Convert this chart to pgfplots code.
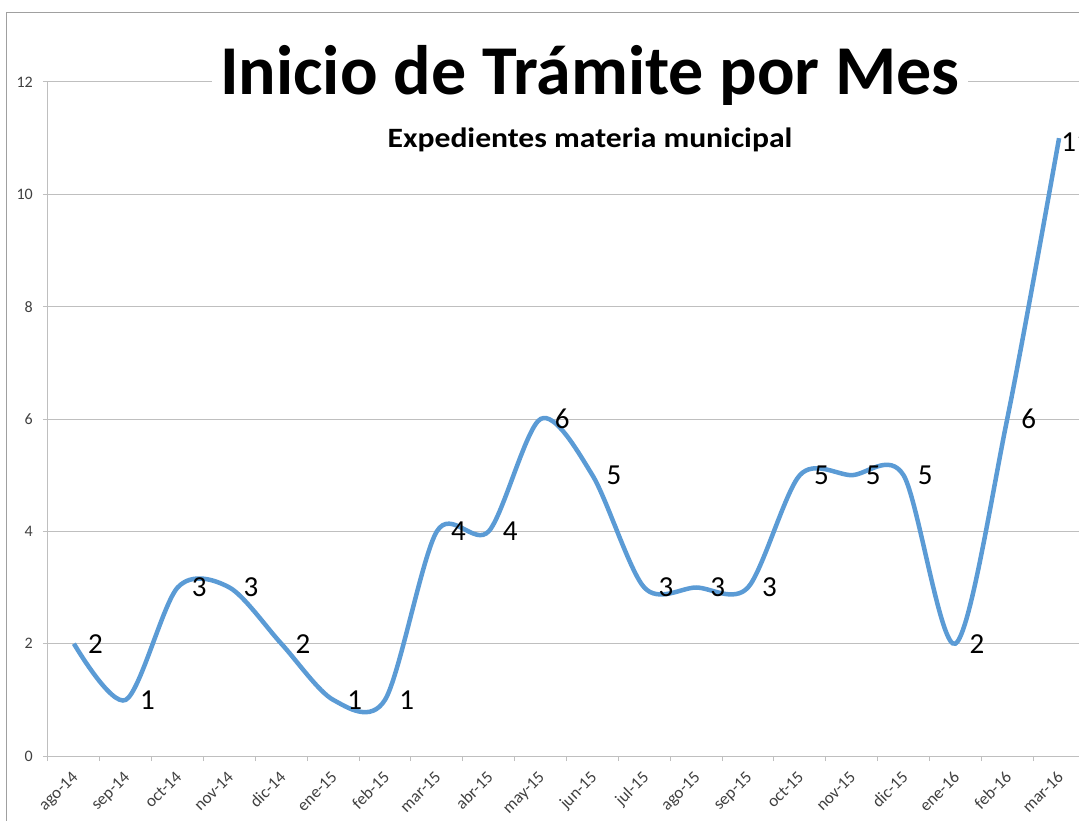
\documentclass[border=0pt]{standalone}
\usepackage{fontspec}
\setmainfont{Carlito}
\usepackage{pgfplots}
\pgfplotsset{compat=1.18}
\definecolor{lineblue}{HTML}{5B9BD5}
\definecolor{gridgray}{HTML}{BFBFBF}
\definecolor{ticktext}{HTML}{404040}
\definecolor{framegray}{HTML}{A0A0A0}
\begin{document}
\begin{tikzpicture}[x=1pt,y=1pt]
\draw[framegray, line width=1pt] (-41,743) rectangle (1200,-120);
\begin{axis}[
  at={(0,0)}, anchor=south west,
  scale only axis, width=1037pt, height=674pt,
  xmin=-0.5, xmax=19.5, ymin=0, ymax=12,
  axis lines=left, axis line style={-, gridgray, line width=1pt},
  /pgf/number format/assume math mode=true,
  xtick={-0.5,0.5,...,19.5},
  x tick label as interval,
  xticklabels={ago-14,sep-14,oct-14,nov-14,dic-14,ene-15,feb-15,mar-15,abr-15,may-15,jun-15,jul-15,ago-15,sep-15,oct-15,nov-15,dic-15,ene-16,feb-16,mar-16},
  ytick={0,2,...,12},
  tick align=outside, major tick length=5pt,
  tick style={gridgray, line width=1pt},
  ymajorgrids, grid style={gridgray, line width=1pt},
  xticklabel shift=9pt,
  yticklabel shift=10pt,
  xticklabel style={xshift=-3pt, rotate=45, anchor=north east, inner sep=0pt, font=\fontsize{17}{17}\selectfont, text=ticktext},
  yticklabel style={anchor=east, inner sep=0pt, font=\fontsize{16}{16}\selectfont, text=ticktext},
  clip=false,
]
\addplot[lineblue, line width=4.5pt, smooth,
  nodes near coords,
  every node near coord/.append style={anchor=west, inner sep=0pt, xshift=12pt, font=\fontsize{29}{29}\selectfont, text=black},
  coordinate style/.condition={x>18.5}{xshift=-12pt, yshift=-4pt}]
coordinates {
(0,2) (1,1) (2,3) (3,3) (4,2) (5,1) (6,1) (7,4) (8,4) (9,6)
(10,5) (11,3) (12,3) (13,3) (14,5) (15,5) (16,5) (17,2) (18,6) (19,11)
};
\end{axis}
\node[fill=white, inner xsep=8pt, inner ysep=4pt, anchor=base, font=\bfseries\fontsize{70}{76}\selectfont] at (542,661) {Inicio de Trámite por Mes};
\node[anchor=base, xscale=1.13, font=\bfseries\fontsize{28}{30}\selectfont] at (542,608.7) {Expedientes materia municipal};
\pgfresetboundingbox
\path[use as bounding box] (-48,-64) rectangle (1031,756);
\end{tikzpicture}
\end{document}
